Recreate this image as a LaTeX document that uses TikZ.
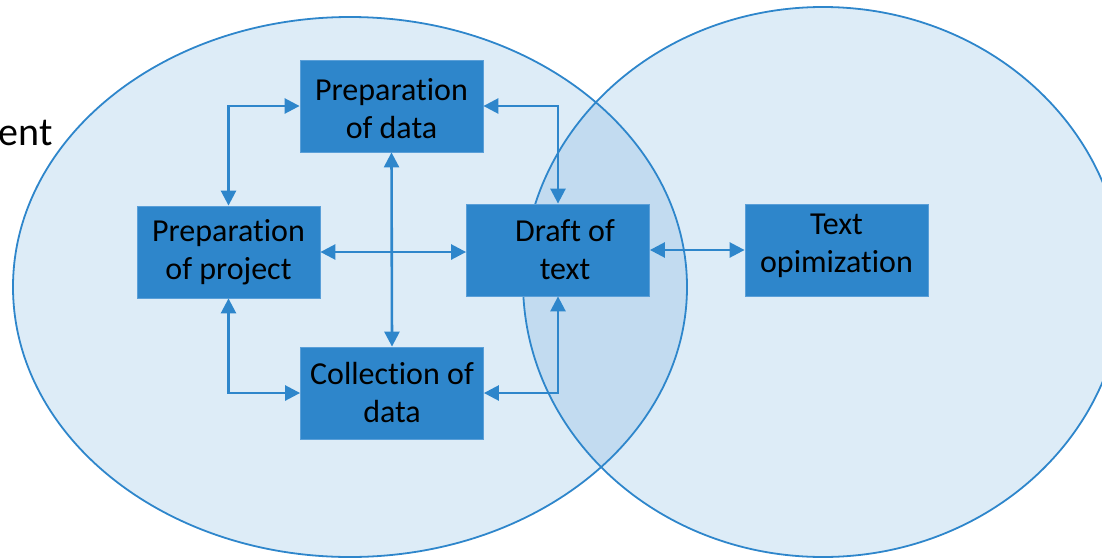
\documentclass[tikz,border=0pt]{standalone}
\usepackage{fontspec}
\setmainfont[Ligatures=NoCommon]{Carlito}
\usetikzlibrary{arrows.meta}
\definecolor{boxblue}{HTML}{2E86CB}
\definecolor{boxedge}{HTML}{5A9FD8}
\definecolor{lineblue}{HTML}{2E86CB}
\begin{document}
\begin{tikzpicture}[x=1pt,y=-1pt,
  stepbox/.style={rectangle, fill=boxblue, draw=boxedge, line width=0.8pt,
    minimum width=183pt, minimum height=92pt, inner sep=0pt, align=center,
    font=\fontsize{32}{38}\selectfont, text=black},
  link/.style={draw=lineblue, line width=2.6pt,
    {Triangle[length=15pt,width=15pt]}-{Triangle[length=15pt,width=15pt]}},
  zone/.style={fill=lineblue, fill opacity=0.16, draw=lineblue,
    draw opacity=1, line width=1.8pt}]
  \useasboundingbox (0,0) rectangle (1102,557);
  \clip (0,0) rectangle (1102,557);

  % two overlapping areas
  \draw[zone] (350,287) ellipse [x radius=337pt, y radius=270pt];
  \draw[zone] (823,282) ellipse [x radius=300pt, y radius=275pt];

  % cut-off heading on the left
  \node[anchor=base east, inner sep=0pt, font=\fontsize{40}{48}\selectfont]
    (head) at (53,145) {ent};

  % process steps (invisible rules trim the vertical placement of the text)
  \node[stepbox] (pdata) at (391.5,106) {\rule{0pt}{28pt}Preparation\\of data};
  \node[stepbox] (pproj) at (228.5,252) {Preparation\\of project};
  \node[stepbox] (draft) at (558,250) {\hspace*{14pt}Draft of\\\hspace*{14pt}text};
  \node[stepbox] (topt)  at (836.5,250) {Text\\opimization\rule[-13pt]{0pt}{0pt}};
  \node[stepbox] (coll)  at (392,393) {Collection of\\data};

  % connections
  \draw[link] (pdata.west) -| (pproj.north);
  \draw[link] (pproj.east) -- (pproj.east -| draft.west);
  \draw[link] (pdata.south) -- (coll.north);
  \draw[link] (pdata.east) -| (draft.north);
  \draw[link] (coll.east) -| (draft.south);
  \draw[link] (pproj.south) |- (coll.west);
  \draw[link] (draft.east) -- (topt.west);
\end{tikzpicture}
\end{document}
